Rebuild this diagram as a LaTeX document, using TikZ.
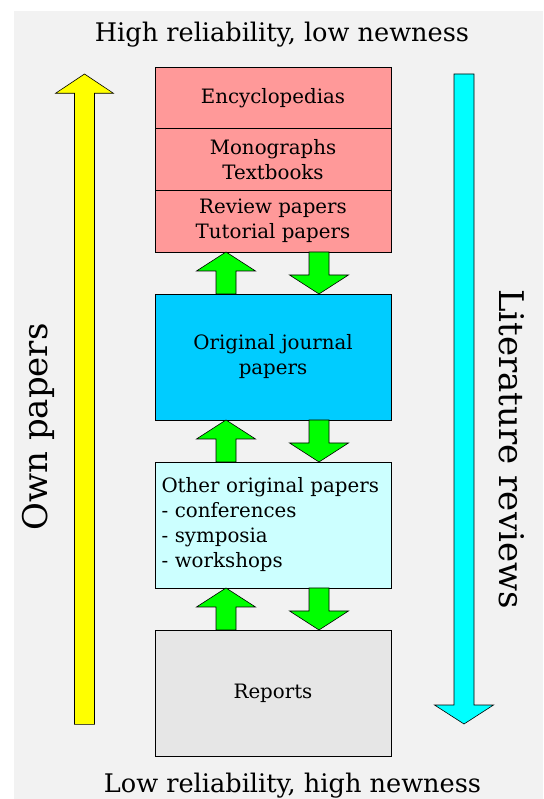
\documentclass[tikz,border=0pt]{standalone}
\usepackage{fontspec}
\setmainfont{DejaVu Serif}
\usetikzlibrary{positioning}
\definecolor{pinkbox}{HTML}{FF9999}
\definecolor{bluebox}{HTML}{00CCFF}
\definecolor{palebox}{HTML}{CCFFFF}
\definecolor{greybox}{HTML}{E6E6E6}
\definecolor{backgr}{HTML}{F2F2F2}
\definecolor{arrgreen}{HTML}{00FF00}
\definecolor{arryellow}{HTML}{FFFF00}
\definecolor{arrcyan}{HTML}{00FFFF}
\begin{document}
\begin{tikzpicture}[x=1pt,y=-1pt,line width=0.6pt,
  box/.style={draw,minimum width=236pt,minimum height=126pt,inner sep=0pt,outer sep=0pt,align=center,font=\fontsize{19.8}{25}\selectfont},
  thirdbox/.style={box,minimum height=61.67pt,fill=pinkbox},
  bigtext/.style={font=\fontsize{25.6}{30}\selectfont,anchor=base},
  sidetext/.style={font=\fontsize{34}{40}\selectfont,anchor=base},
  fatarrow/.style={draw,line join=miter}]
\useasboundingbox (0,0) rectangle (543,799);
\fill[backgr] (14,11) rectangle (543,799);

\node[bigtext] (high) at (282,41.7) {High reliability, low newness};
\node[bigtext] (low) at (292.5,792.5) {Low reliability, high newness};

\node[thirdbox] (enc) at (273,97.8) {Encyclopedias};
\node[thirdbox,below=0pt of enc] (mono) {Monographs\\Textbooks};
\node[thirdbox,below=0pt of mono] (rev) {Review papers\\Tutorial papers};
\node[box,fill=bluebox,below=42pt of rev] (ojp) {Original journal\\papers};
\node[box,fill=palebox,below=42pt of ojp,align=left,text width=223pt] (other) {Other original papers\\- conferences\\- symposia\\- workshops};
\node[box,fill=greybox,below=42pt of other] (rep) {Reports};

\foreach \hi/\lo in {rev/ojp,ojp/other,other/rep}{
\draw[fatarrow,fill=arrgreen] ([xshift=-57pt]\lo.north) -- ([xshift=-57pt,yshift=-19pt]\hi.south) -- ([xshift=-76.5pt,yshift=-19pt]\hi.south) -- ([xshift=-47pt]\hi.south) -- ([xshift=-17.5pt,yshift=-19pt]\hi.south) -- ([xshift=-37pt,yshift=-19pt]\hi.south) -- ([xshift=-37pt]\lo.north) -- cycle;
\draw[fatarrow,fill=arrgreen] ([xshift=36pt]\hi.south) -- ([xshift=36pt,yshift=19pt]\lo.north) -- ([xshift=16.5pt,yshift=19pt]\lo.north) -- ([xshift=46pt]\lo.north) -- ([xshift=75.5pt,yshift=19pt]\lo.north) -- ([xshift=56pt,yshift=19pt]\lo.north) -- ([xshift=56pt]\hi.south) -- cycle;
}

\draw[fatarrow,fill=arryellow] (74.5,724.3) -- (74.5,93.3) -- (55.5,93.3) -- (84.5,74) -- (113.5,93.3) -- (94.5,93.3) -- (94.5,724.3) -- cycle;
\draw[fatarrow,fill=arrcyan] (454,74) -- (454,705) -- (434.5,705) -- (464,724) -- (493.5,705) -- (474,705) -- (474,74) -- cycle;

\node[sidetext,rotate=90] (own) at (47,427) {Own papers};
\node[sidetext,rotate=-90] (lit) at (499.6,449) {Literature reviews};
\end{tikzpicture}
\end{document}
